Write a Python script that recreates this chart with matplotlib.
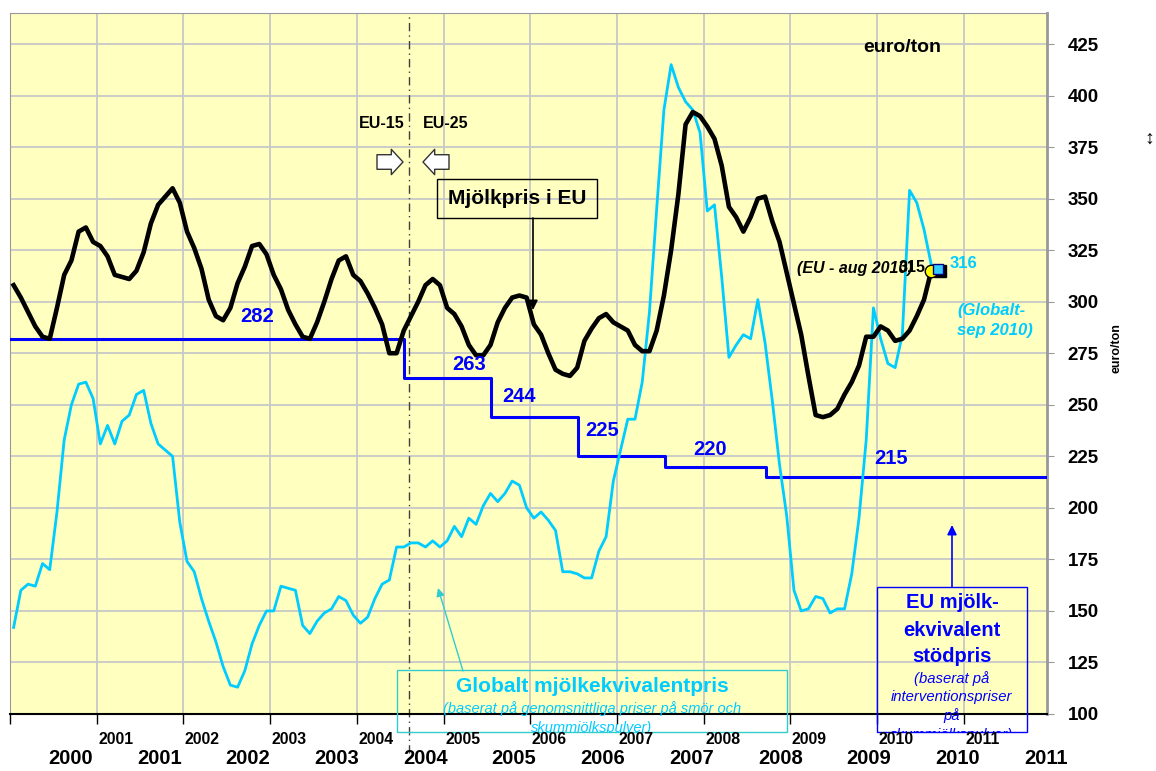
import matplotlib.pyplot as plt
import numpy as np
from matplotlib.patches import Rectangle
from matplotlib.transforms import offset_copy

plt.rcParams['font.family'] = ['Liberation Sans', 'DejaVu Sans']

# monthly EU milk price, Jan 2000 - Aug 2010 (euro/ton)
eu_price = [308, 302, 295, 288, 283, 282, 297, 313, 320, 334,
            336, 329, 327, 322, 313, 312, 311, 315, 324, 338,
            347, 351, 355, 348, 334, 326, 316, 301, 293, 291,
            297, 309, 317, 327, 328, 323, 313, 306, 296, 289,
            283, 282, 290, 300, 311, 320, 322, 313, 310, 304,
            297, 289, 275, 275, 286, 293, 300, 308, 311, 308,
            297, 294, 288, 279, 274, 274, 279, 290, 297, 302,
            303, 302, 289, 284, 275, 267, 265, 264, 268, 281,
            287, 292, 294, 290, 288, 286, 279, 276, 276, 286,
            303, 325, 352, 386, 392, 390, 385, 379, 366, 346,
            341, 334, 341, 350, 351, 339, 329, 314, 299, 284,
            264, 245, 244, 245, 248, 255, 261, 269, 283, 283,
            288, 286, 281, 282, 286, 293, 301, 315]

# monthly global milk equivalent price, Jan 2000 - Sep 2010
global_price = [142, 160, 163, 162, 173, 170, 198, 233, 250, 260,
                261, 253, 231, 240, 231, 242, 245, 255, 257, 241,
                231, 228, 225, 193, 174, 169, 156, 145, 135, 123,
                114, 113, 121, 134, 143, 150, 150, 162, 161, 160,
                143, 139, 145, 149, 151, 157, 155, 148, 144, 147,
                156, 163, 165, 181, 181, 183, 183, 181, 184, 181,
                184, 191, 186, 195, 192, 201, 207, 203, 207, 213,
                211, 200, 195, 198, 194, 189, 169, 169, 168, 166,
                166, 179, 186, 213, 228, 243, 243, 261, 295, 345,
                393, 415, 404, 397, 393, 382, 344, 347, 312, 273,
                279, 284, 282, 301, 280, 252, 221, 196, 160, 150,
                151, 157, 156, 149, 151, 151, 168, 195, 233, 297,
                282, 270, 268, 284, 354, 348, 335, 318, 316]

# EU support price steps
support_price = [282, 263, 244, 225, 220, 215]
support_from = [2000.0, 2004.54, 2005.55, 2006.555, 2007.555, 2008.72]
support_until = 2011.96

years = list(range(2000, 2012))
upper_labels = [str(y) for y in range(2001, 2012)]
lower_labels = [str(y) for y in range(2000, 2012)]
enlargement = 2004.6

W, H = 1156, 771
BG = '#FFFFC0'
CYAN = '#00CCFF'
BLUE = '#0000FF'


def px(x, y):
    return x / W, 1 - y / H


fig = plt.figure(figsize=(W / 100, H / 100), dpi=100)
ax = fig.add_axes([10 / W, 1 - 714 / H, 1037 / W, 701 / H])
ax.set_facecolor(BG)

t_eu = 2000 + (np.arange(len(eu_price)) + 0.5) / 12
t_gl = 2000 + (np.arange(len(global_price)) + 0.5) / 12

ax.step(support_from + [support_until], support_price + [support_price[-1]],
        where='post', color=BLUE, lw=2.2, zorder=3)
ax.plot(t_gl, global_price, color=CYAN, lw=2, zorder=4)
ax.plot(t_eu, eu_price, color='black', lw=3.3, zorder=5)

# end markers
shadow = offset_copy(ax.transData, fig=fig, x=2, y=-2, units='dots')
ax.plot(t_gl[-1], global_price[-1], 's', ms=8, color='black', transform=shadow, zorder=6)
ax.plot(t_eu[-1], eu_price[-1], 'o', ms=9, mfc='yellow', mec='black', mew=1, zorder=7)
ax.plot(t_gl[-1], global_price[-1], 's', ms=7.5, mfc='#33CCFF', mec='#000080', mew=1, zorder=8)

ax.axvline(enlargement, ymin=-0.055, ymax=1, color='#404040', lw=1,
           ls=(0, (6, 3, 1, 3)), clip_on=False, zorder=2)

ax.set_xlim(2000, support_until)
ax.set_ylim(100, 440.04)
ax.set_xticks(years)
ax.set_xticklabels([])
ax.set_yticks(range(100, 426, 25))
ax.yaxis.tick_right()
ax.tick_params(axis='y', length=5, color='#999999', pad=10, labelsize=13.5)
ax.tick_params(axis='x', length=7, width=1, color='black', direction='out')
for lab in ax.get_yticklabels():
    lab.set_fontweight('bold')
ax.grid(True, color='#C8C8C8', lw=1.3, zorder=0)
ax.set_axisbelow(True)
for side in ['left', 'top', 'right']:
    ax.spines[side].set_color('#999999')
ax.spines['right'].set_linewidth(2)
ax.spines['bottom'].set_color('black')
ax.spines['bottom'].set_linewidth(1.5)

# two rows of year labels
clip_upper = Rectangle((0, 1 - 744 / H), 1, 20 / H, transform=fig.transFigure,
                       visible=False)
fig.add_artist(clip_upper)
for k, lab in enumerate(upper_labels):
    xpix = 10 + 86.7 * (k + 1)
    t = fig.text(*px(xpix + 1.5, 732), lab, ha='left', va='top', fontsize=11.4,
                 weight='bold')
    t.set_clip_path(clip_upper)
for k, lab in enumerate(lower_labels):
    fig.text(*px(70.6 + 88.7 * k, 759), lab, ha='center', va='center',
             fontsize=14.5, weight='bold')

# axis texts
fig.text(*px(902, 47), 'euro/ton', ha='center', va='center', fontsize=14, weight='bold')
fig.text(*px(1116, 348), 'euro/ton', ha='center', va='center', fontsize=9,
         weight='bold', rotation=90)
fig.text(*px(1149, 139), '↕', ha='center', va='center', fontsize=14, weight='bold')

# enlargement markers
fig.text(*px(382, 123), 'EU-15', ha='center', va='center', fontsize=11.5, weight='bold')
fig.text(*px(446, 123), 'EU-25', ha='center', va='center', fontsize=11.5, weight='bold')
arrow_style = 'simple,head_length=0.6,head_width=1.3,tail_width=0.75'
ax.annotate('', xy=px(403, 162), xytext=px(377, 162), xycoords='figure fraction',
            textcoords='figure fraction',
            arrowprops=dict(arrowstyle=arrow_style, fc='white', ec='#333333', lw=1,
                            mutation_scale=14, shrinkA=0, shrinkB=0))
ax.annotate('', xy=px(423, 162), xytext=px(449, 162), xycoords='figure fraction',
            textcoords='figure fraction',
            arrowprops=dict(arrowstyle=arrow_style, fc='white', ec='#333333', lw=1,
                            mutation_scale=14, shrinkA=0, shrinkB=0))

# EU milk price label box
fig.add_artist(Rectangle(px(437, 218), 160 / W, 39 / H, transform=fig.transFigure,
                         fill=False, ec='black', lw=1))
fig.text(*px(517, 199), 'Mjölkpris i EU', ha='center', va='center', fontsize=15,
         weight='bold')
ax.annotate('', xy=px(533, 310), xytext=px(533, 218), xycoords='figure fraction',
            textcoords='figure fraction',
            arrowprops=dict(arrowstyle='-|>', color='black', lw=1.2,
                            mutation_scale=14, shrinkA=0, shrinkB=0))

# support price labels
for lab, (x, y) in zip(support_price,
                       [(257, 317), (469, 365), (519, 397), (602, 430), (710, 449),
                        (891, 458)]):
    fig.text(*px(x, y), str(lab), ha='center', va='center', fontsize=14.5,
             weight='bold', color=BLUE)

# end of series labels
fig.text(*px(855, 269), '(EU - aug 2010)', ha='center', va='center', fontsize=11.5,
         weight='bold', style='italic')
fig.text(*px(912, 268), str(eu_price[-1]), ha='center', va='center', fontsize=11.5,
         weight='bold')
fig.text(*px(964, 264), str(global_price[-1]), ha='center', va='center', fontsize=12,
         weight='bold', color=CYAN)
fig.text(*px(991, 311), '(Globalt-', ha='center', va='center', fontsize=12,
         weight='bold', style='italic', color=CYAN)
fig.text(*px(995, 331), 'sep 2010)', ha='center', va='center', fontsize=12,
         weight='bold', style='italic', color=CYAN)

# global price legend box
gbox = Rectangle(px(397, 732), 390 / W, 62 / H, transform=fig.transFigure,
                 fill=False, ec='#33CCCC', lw=1)
fig.add_artist(gbox)
fig.text(*px(592, 687), 'Globalt mjölkekvivalentpris', ha='center', va='center',
         fontsize=15, weight='bold', color=CYAN)
for txt, y in [('(baserat på genomsnittliga priser på smör och', 709),
               ('skummjölkspulver)', 728)]:
    t = fig.text(*px(592, y), txt, ha='center', va='center', fontsize=10.5,
                 style='italic', color=CYAN)
    t.set_clip_path(gbox)
ax.annotate('', xy=px(438, 588), xytext=px(463, 671), xycoords='figure fraction',
            textcoords='figure fraction',
            arrowprops=dict(arrowstyle='-|>', color='#33CCCC', lw=1,
                            mutation_scale=12, shrinkA=0, shrinkB=0))

# support price legend box
bbox_ = Rectangle(px(877, 732), 150 / W, 145 / H, transform=fig.transFigure,
                  fill=False, ec=BLUE, lw=1)
fig.add_artist(bbox_)
for txt, y in [('EU mjölk-', 603), ('ekvivalent', 630), ('stödpris', 656)]:
    fig.text(*px(952, y), txt, ha='center', va='center', fontsize=14.5,
             weight='bold', color=BLUE)
for txt, y in [('(baserat på', 679), ('interventionspriser', 697), ('på', 716),
               ('skummjölkspulver)', 735)]:
    t = fig.text(*px(952, y), txt, ha='center', va='center', fontsize=10.7,
                 style='italic', color=BLUE)
    t.set_clip_path(bbox_)
ax.annotate('', xy=px(952, 525), xytext=px(952, 587), xycoords='figure fraction',
            textcoords='figure fraction',
            arrowprops=dict(arrowstyle='-|>', color=BLUE, lw=1.2,
                            mutation_scale=14, shrinkA=0, shrinkB=0))

fig.savefig('out.png', dpi=100, facecolor='white')
